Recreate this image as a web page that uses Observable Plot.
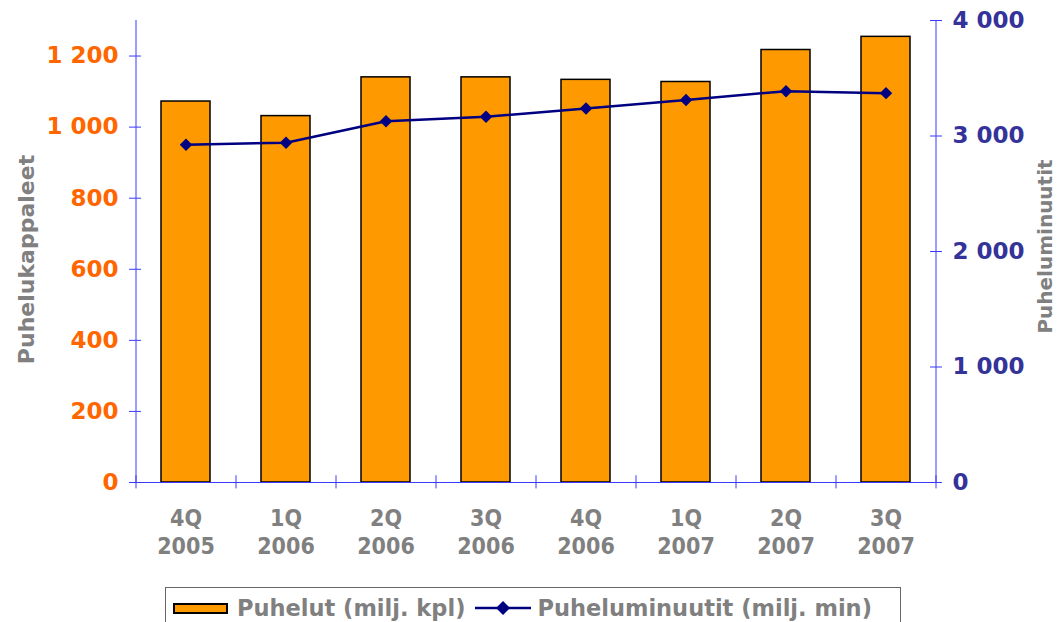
<!DOCTYPE html>
<html>
<head>
<meta charset="utf-8">
<script src="https://cdn.jsdelivr.net/npm/d3@7"></script>
<script src="https://cdn.jsdelivr.net/npm/@observablehq/plot@0.6"></script>
<style>
  html, body { margin: 0; padding: 0; background: #fff; }
  #wrap { position: relative; width: 1057px; height: 622px; overflow: hidden; }
  #legend {
    position: absolute; left: 165px; top: 587px; width: 736px; height: 50px;
    border: 1px solid #666; box-sizing: border-box;
    display: flex; align-items: flex-start; padding-top: 7px; padding-left: 7px;
    font-family: "DejaVu Sans", sans-serif; font-weight: bold; font-size: 22.5px; color: #808080;
  }
  #legend .item { display: flex; align-items: center; white-space: nowrap; }
  #legend .sw { width: 51px; height: 7px; background: #FF9900; border: 2px solid #000; margin-right: 9px; }
  #legend svg { margin: 0 6px 0 10px; }
</style>
</head>
<body>
<div id="wrap">
  <div id="chart"></div>
  <div id="legend"></div>
</div>
<script>
const categories = ["4Q 2005", "1Q 2006", "2Q 2006", "3Q 2006", "4Q 2006", "1Q 2007", "2Q 2007", "3Q 2007"];
const calls = [1072, 1031, 1140, 1140, 1133, 1127, 1217, 1254];
const minutes = [2925, 2942, 3128, 3166, 3238, 3312, 3388, 3371];
const leftTicks = [0, 200, 400, 600, 800, 1000, 1200];
const rightTicks = [0, 1000, 2000, 3000, 4000];
const leftTitle = "Puhelukappaleet";
const rightTitle = "Puheluminuutit";
const seriesNames = ["Puhelut (milj. kpl)", "Puheluminuutit (milj. min)"];

const leftMax = 1300, rightMax = 4000;
const ratio = leftMax / rightMax;
const fmt = v => d3.format(",")(v).replace(/,/g, " ");

const data = categories.map((c, i) => ({cat: c, calls: calls[i], minutes: minutes[i]}));
const axisBlue = "#3a3aff";

const chart = Plot.plot({
  width: 1057,
  height: 585,
  marginLeft: 135,
  marginRight: 122,
  marginTop: 20,
  marginBottom: 103,
  style: {fontFamily: "DejaVu Sans, sans-serif", fontWeight: "bold", background: "#fff"},
  x: {domain: categories, paddingInner: 0.51, paddingOuter: 0.255, label: null},
  y: {domain: [0, leftMax], label: null},
  marks: [
    Plot.barY(data, {x: "cat", y: "calls", fill: "#FF9900", stroke: "#000", strokeWidth: 1.5}),
    // axis lines
    Plot.ruleY([0], {stroke: axisBlue, strokeWidth: 1}),
    Plot.ruleX(categories.slice(0, 1), {x: d => d, dx: -50, y1: 0, y2: leftMax, stroke: axisBlue}),
    Plot.ruleX(categories.slice(-1), {x: d => d, dx: 50, y1: 0, y2: leftMax, stroke: axisBlue}),
    // category boundary ticks
    Plot.ruleX(categories, {x: d => d, dx: -50, y1: -18, y2: 19, stroke: axisBlue}),
    Plot.ruleX(categories.slice(-1), {x: d => d, dx: 50, y1: -18, y2: 19, stroke: axisBlue}),
    // left axis
    Plot.axisY(leftTicks, {anchor: "left", tickSize: 12, dx: 6, stroke: axisBlue, fill: "none", tickFormat: () => "", label: null}),
    Plot.axisY(leftTicks, {anchor: "left", tickSize: 0, tickPadding: 17, fill: "#FF6600", fontSize: 23, fontWeight: "bold", tickFormat: fmt, label: null}),
    // right axis (minutes mapped onto left scale)
    Plot.axisY(rightTicks.map(v => v * ratio), {anchor: "right", tickSize: 12, dx: -6, stroke: axisBlue, fill: "none", tickFormat: () => "", label: null}),
    Plot.axisY(rightTicks.map(v => v * ratio), {anchor: "right", tickSize: 0, tickPadding: 17, fill: "#333399", fontSize: 23, fontWeight: "bold", tickFormat: d => fmt(Math.round(d / ratio)), label: null}),
    // x axis labels
    Plot.axisX({tickSize: 0, tickPadding: 24, fill: "#808080", fontSize: 23, fontWeight: "bold", fontFamily: "Liberation Sans Narrow, DejaVu Sans Condensed, sans-serif", lineHeight: 1.2, tickFormat: d => d.replace(" ", "\n"), label: null}),
    // axis titles
    Plot.text([leftTitle], {text: d => d, frameAnchor: "left", textAnchor: "middle", rotate: -90, dx: -109, dy: 8, fill: "#808080", fontSize: 22, fontWeight: "bold"}),
    Plot.text([rightTitle], {text: d => d, frameAnchor: "right", textAnchor: "middle", rotate: -90, dx: 110, dy: -5, fill: "#808080", fontSize: 20, fontWeight: "bold"}),
    // line series
    Plot.line(data, {x: "cat", y: d => d.minutes * ratio, stroke: "#000080", strokeWidth: 2.5}),
    Plot.dot(data, {x: "cat", y: d => d.minutes * ratio, symbol: "diamond2", r: 5.6, fill: "#000080", stroke: "none"})
  ]
});
document.getElementById("chart").appendChild(chart);

const legend = document.getElementById("legend");
legend.innerHTML = `
  <div class="item"><div class="sw"></div><span>${seriesNames[0]}</span></div>
  <div class="item"><svg width="56" height="16"><line x1="0" y1="8" x2="56" y2="8" stroke="#000080" stroke-width="2.5"/><path d="M28,1 L35,8 L28,15 L21,8 Z" fill="#000080"/></svg><span>${seriesNames[1]}</span></div>`;
</script>
</body>
</html>
